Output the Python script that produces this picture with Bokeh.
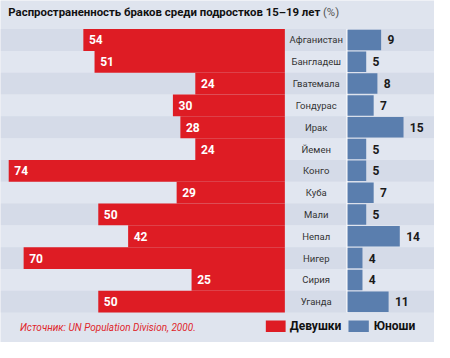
from bokeh.plotting import figure
from bokeh.models import ColumnDataSource, Range1d
from bokeh.core.properties import value
from bokeh.embed import file_html
from bokeh.resources import INLINE

# ---- data ----
countries = ["Афганистан", "Бангладеш", "Гватемала", "Гондурас", "Ирак", "Йемен",
             "Конго", "Куба", "Мали", "Непал", "Нигер", "Сирия", "Уганда"]
girls = [54, 51, 24, 30, 28, 24, 74, 29, 50, 42, 70, 25, 50]
boys = [9, 5, 8, 7, 15, 5, 5, 7, 5, 14, 4, 4, 11]
title_main = "Распространенность браков среди подростков 15–19 лет"
title_unit = "(%)"
source_note = "Источник: UN Population Division, 2000."
series_names = ["Девушки", "Юноши"]

# ---- layout constants ----
LABEL_W = 16.8          # width of the country-name column (data units)
X0, X1 = -76.2, 40.1
Y_TOP, Y_BOT = -1.81, 13.87

BG = "#dfe4ee"
STRIPE_DARK = "#d5dbe8"
STRIPE_LIGHT = "#e1e6f0"
RED = "#de1c24"
BLUE = "#5a7eae"

W, H = 434, 342
p = figure(width=W, height=H, x_range=Range1d(X0, X1), y_range=Range1d(Y_BOT, Y_TOP),
           output_backend="svg", toolbar_location=None, min_border=0,
           background_fill_color=BG, border_fill_color=BG)
p.outline_line_color = None
p.axis.visible = False
p.xgrid.visible = False
p.ygrid.visible = False

rows = list(range(len(countries)))
stripe_colors = [STRIPE_DARK if i % 2 == 0 else STRIPE_LIGHT for i in rows]

src = ColumnDataSource(dict(
    y=rows,
    country=countries,
    girls=girls,
    boys=boys,
    girls_left=[-g for g in girls],
    boys_right=[LABEL_W + b for b in boys],
    girls_lbl=[str(g) for g in girls],
    boys_lbl=[str(b) for b in boys],
    girls_lbl_x=[-g + 1.5 for g in girls],
    boys_lbl_x=[LABEL_W + b + 1.7 for b in boys],
    stripe=stripe_colors,
    label_x=[LABEL_W / 2] * len(rows),
))

# row stripes
p.hbar(y="y", left=X0, right=X1, height=1.0, fill_color="stripe", line_color=None, source=src)

# separator between label column and boys bars
p.segment(x0=[LABEL_W - 0.15], x1=[LABEL_W - 0.15], y0=[-0.5], y1=[len(rows) - 0.5],
          line_color="white", line_width=1.2)

# girls bars
p.hbar(y="y", left="girls_left", right=0, height=1.0, fill_color=RED, line_color=None, source=src)
# boys bars
p.hbar(y="y", left=LABEL_W, right="boys_right", height=0.94, fill_color=BLUE, line_color=None, source=src)

FONT = value("Roboto")

p.text(x="girls_lbl_x", y="y", text="girls_lbl", source=src, text_color="white",
       text_font=FONT, text_font_style="bold", text_font_size="12px",
       text_baseline="middle", text_align="left")
p.text(x="boys_lbl_x", y="y", text="boys_lbl", source=src, text_color="#1a1a1a",
       text_font=FONT, text_font_style="bold", text_font_size="12px",
       text_baseline="middle", text_align="left")
p.text(x="label_x", y="y", text="country", source=src, text_color="#333333",
       text_font=FONT, text_font_size="9.5px",
       text_baseline="middle", text_align="center")

# title
p.text(x=[-74.1], y=[-1.29], text=[title_main], text_color="#111111",
       text_font=FONT, text_font_style="bold", text_font_size="11.4px",
       text_baseline="middle", text_align="left")
p.text(x=[10.2], y=[-1.29], text=[title_unit], text_color="#555555",
       text_font=FONT, text_font_size="11.4px",
       text_baseline="middle", text_align="left")

# source
p.text(x=[-71.0], y=[13.17], text=[source_note], text_color="#e0262c",
       text_font=FONT, text_font_style="italic", text_font_size="10px",
       text_baseline="middle", text_align="left")

# legend
p.quad(left=[-5.1], right=[0.2], top=[12.86], bottom=[13.39], fill_color=RED, line_color=None)
p.quad(left=[LABEL_W + 0.25], right=[LABEL_W + 5.7], top=[12.86], bottom=[13.39],
       fill_color=BLUE, line_color=None)
p.text(x=[1.3, LABEL_W + 7.0], y=[13.13, 13.13], text=series_names, text_color="#111111",
       text_font=FONT, text_font_style="bold", text_font_size="12px",
       text_baseline="middle", text_align="left")

open("out.html", "w").write(file_html(p, INLINE))
